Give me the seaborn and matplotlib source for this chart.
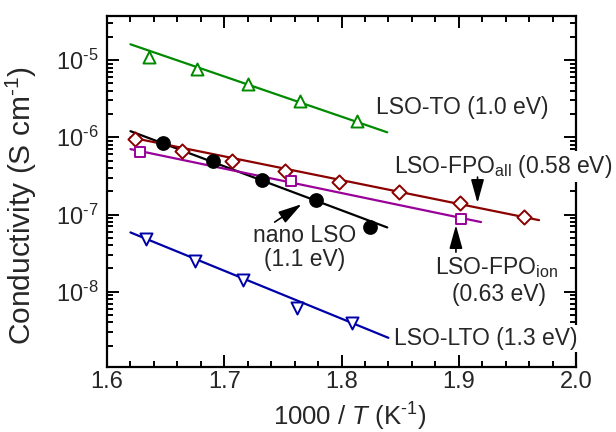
import numpy as np
import pandas as pd
import matplotlib
matplotlib.use("Agg")
import matplotlib.pyplot as plt
from matplotlib.ticker import MultipleLocator, FixedLocator, NullFormatter, FixedFormatter
import seaborn as sns

# ---------------- data ----------------
series_names = ["LSO-TO", "nano LSO", "LSO-FPO_all", "LSO-FPO_ion", "LSO-LTO"]

to_x = [1.636, 1.677, 1.720, 1.765, 1.813]
to_y = [1.10e-5, 7.64e-6, 4.89e-6, 2.97e-6, 1.62e-6]
to_fit_x = [1.620, 1.839]
to_fit_y = [1.60e-5, 1.16e-6]

nano_x = [1.648, 1.690, 1.732, 1.778, 1.824]
nano_y = [8.49e-7, 4.97e-7, 2.79e-7, 1.54e-7, 6.81e-8]
nano_fit_x = [1.620, 1.839]
nano_fit_y = [1.20e-6, 6.80e-8]

fpo_all_x = [1.624, 1.664, 1.707, 1.752, 1.798, 1.849, 1.901, 1.956]
fpo_all_y = [9.48e-7, 6.63e-7, 4.97e-7, 3.68e-7, 2.65e-7, 1.93e-7, 1.39e-7, 9.34e-8]
fpo_all_fit_x = [1.620, 1.9685]
fpo_all_fit_y = [9.97e-7, 8.45e-8]

fpo_ion_x = [1.628, 1.757, 1.902]
fpo_ion_y = [6.37e-7, 2.71e-7, 8.64e-8]
fpo_ion_fit_x = [1.620, 1.919]
fpo_ion_fit_y = [7.03e-7, 7.98e-8]

lto_x = [1.633, 1.675, 1.716, 1.762, 1.809]
lto_y = [4.75e-8, 2.51e-8, 1.44e-8, 6.08e-9, 3.88e-9]
lto_fit_x = [1.620, 1.840]
lto_fit_y = [5.86e-8, 2.53e-9]

x_ticks = [1.6, 1.7, 1.8, 1.9, 2.0]
x_tick_labels = ["1.6", "1.7", "1.8", "1.9", "2.0"]
y_ticks = [1e-8, 1e-7, 1e-6, 1e-5]
y_tick_labels = [r"$\mathdefault{10^{\text{-}8}}$", r"$\mathdefault{10^{\text{-}7}}$",
                 r"$\mathdefault{10^{\text{-}6}}$", r"$\mathdefault{10^{\text{-}5}}$"]

# ---------------- style ----------------
sns.set_style("ticks")
plt.rcParams["font.family"] = ["Liberation Sans", "DejaVu Sans"]
plt.rcParams["mathtext.fontset"] = "custom"
plt.rcParams["mathtext.rm"] = "Liberation Sans"
plt.rcParams["mathtext.it"] = "Liberation Sans:italic"
plt.rcParams["mathtext.bf"] = "Liberation Sans:bold"

c_green = "#008a00"
c_black = "#000000"
c_red = "#8b0000"
c_purple = "#990099"
c_blue = "#0000a8"

fig = plt.figure(figsize=(6.16, 4.32), dpi=100)
ax = fig.add_axes([107 / 616, 65 / 432, 469 / 616, 351 / 432])
ax.set_yscale("log")

# fit lines
fits = [
    (to_fit_x, to_fit_y, c_green),
    (nano_fit_x, nano_fit_y, c_black),
    (fpo_all_fit_x, fpo_all_fit_y, c_red),
    (fpo_ion_fit_x, fpo_ion_fit_y, c_purple),
    (lto_fit_x, lto_fit_y, c_blue),
]
for fx, fy, c in fits:
    sns.lineplot(x=fx, y=fy, color=c, linewidth=1.6, ax=ax, zorder=2)

# data points
pts = [
    (to_x, to_y, c_green, "white", "^", 75),
    (nano_x, nano_y, c_black, c_black, "o", 85),
    (fpo_all_x, fpo_all_y, c_red, "white", "D", 52),
    (fpo_ion_x, fpo_ion_y, c_purple, "white", "s", 55),
    (lto_x, lto_y, c_blue, "white", "v", 75),
]
for px, py, ec, fc, m, s in pts:
    sns.scatterplot(x=px, y=py, marker=m, s=s, color=ec, facecolor=fc,
                    edgecolor=ec, linewidth=1.4, ax=ax, zorder=3)

# axes
ax.set_xlim(1.6, 2.0)
ax.set_ylim(1.06e-9, 3.72e-5)
ax.set_xticks(x_ticks)
ax.set_xticklabels(x_tick_labels)
ax.xaxis.set_minor_locator(MultipleLocator(0.02))
ax.yaxis.set_major_locator(FixedLocator(y_ticks))
ax.yaxis.set_major_formatter(FixedFormatter(y_tick_labels))
minor_y = [m * 10.0 ** e for e in range(-9, -4) for m in range(2, 10)]
minor_y = [v for v in minor_y if 1.06e-9 < v < 3.72e-5]
ax.yaxis.set_minor_locator(FixedLocator(minor_y))
ax.yaxis.set_minor_formatter(NullFormatter())

ax.tick_params(which="both", direction="in", top=True, right=True,
               width=1.4, labelsize=17, color="black")
ax.tick_params(which="major", length=8.5)
ax.tick_params(which="minor", length=4.5)
ax.tick_params(axis="x", pad=3)
ax.tick_params(axis="y", pad=6)
for sp in ax.spines.values():
    sp.set_linewidth(1.6)
    sp.set_color("black")

ax.set_xlabel(r"1000 / $T$ (K$^{\text{-}1}$)", fontsize=18.5)
ax.set_ylabel(r"Conductivity (S cm$^{\text{-}1}$)", fontsize=21.5)
ax.xaxis.set_label_coords(0.518, -0.095)
ax.yaxis.set_label_coords(-0.145, 0.46)

# annotations
fs = 16.5
wbox = dict(facecolor="white", edgecolor="none", pad=1.5)
ax.text(1.829, 2.03e-6, "LSO-TO (1.0 eV)", fontsize=fs, ha="left", va="baseline", zorder=6)
ax.text(1.845, 3.41e-7, r"LSO-FPO$_{\mathrm{all}}$ (0.58 eV)", fontsize=fs, ha="left",
        va="baseline", zorder=6, bbox=wbox, clip_on=False)
ax.text(1.7685, 4.35e-8, "nano LSO", fontsize=fs, ha="center", va="baseline", zorder=6)
ax.text(1.7685, 2.15e-8, "(1.1 eV)", fontsize=fs, ha="center", va="baseline", zorder=6)
ax.text(1.932, 1.67e-8, r"LSO-FPO$_{\mathrm{ion}}$", fontsize=fs, ha="center", va="baseline", zorder=6)
ax.text(1.9345, 7.62e-9, "(0.63 eV)", fontsize=fs, ha="center", va="baseline", zorder=6)
ax.text(1.845, 2.03e-9, "LSO-LTO (1.3 eV)", fontsize=fs, ha="left", va="baseline",
        zorder=6, bbox=wbox, clip_on=False)

arrow = dict(arrowstyle="-|>,head_length=0.9,head_width=0.25", color="black",
             lw=1.2, shrinkA=0, shrinkB=0, mutation_scale=16)
ax.annotate("", xy=(1.916, 1.41e-7), xytext=(1.916, 3.05e-7), arrowprops=arrow, zorder=6)
ax.annotate("", xy=(1.766, 1.36e-7), xytext=(1.743, 7.98e-8), arrowprops=arrow, zorder=6)
ax.annotate("", xy=(1.8976, 7.3e-8), xytext=(1.8976, 3.26e-8), arrowprops=arrow, zorder=6)

fig.savefig("out.png", dpi=100)
